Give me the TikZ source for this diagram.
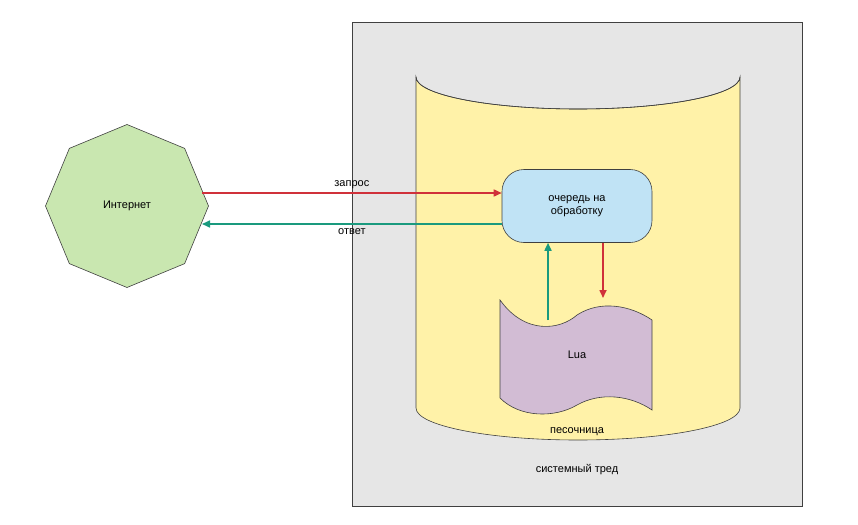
\documentclass[tikz,border=0pt]{standalone}
\usepackage{fontspec}
\setmainfont{Liberation Sans}
\usetikzlibrary{shapes.geometric,arrows.meta}
\definecolor{grayf}{HTML}{E6E6E6}
\definecolor{cyl}{HTML}{FFF2A8}
\definecolor{oct}{HTML}{C9E7B0}
\definecolor{box}{HTML}{C0E3F5}
\definecolor{doc}{HTML}{D2BCD4}
\definecolor{redA}{HTML}{D0313A}
\definecolor{grnA}{HTML}{1A9A7E}
\begin{document}
\begin{tikzpicture}[x=1pt,y=-1pt,font=\fontsize{11}{13}\selectfont,
  shp/.style={draw=black!75,line width=0.6pt},
  arr/.style={line width=1.6pt,-{Triangle[length=8pt,width=7pt]}}]
\useasboundingbox (0,0) rectangle (858,524);
\draw[shp,fill=grayf] (352,22) rectangle (802,506);
% cylinder
\draw[shp,fill=cyl] (416,77) -- (416,408) arc[start angle=180,end angle=360,x radius=162,y radius=-32] -- (740,77) arc[start angle=0,end angle=180,x radius=162,y radius=32] -- cycle;
\draw[shp] (416,77) arc[start angle=180,end angle=360,x radius=162,y radius=-32];
\node[shp,fill=oct,regular polygon,regular polygon sides=8,minimum size=163,shape border rotate=22.5,inner sep=0] (net) at (127,206) {Интернет};
\node[shp,fill=box,rounded corners=22,minimum width=150,minimum height=73,align=center] (q) at (577,206) {очередь на\\обработку};
\draw[shp,fill=doc] (500,300) .. controls (525,335) and (560,330) .. (577,315) .. controls (600,300) and (630,305) .. (652,320) -- (652,410) .. controls (630,395) and (600,392) .. (577,405) .. controls (555,418) and (520,418) .. (500,398) -- cycle;
\node (lua) at (577,355) {Lua};
\coordinate (luaT) at (548,320);
\coordinate (luaR) at (603,298);
\node (sb) at (577,432) {песочница};
\node (st) at (577,470) {системный тред};
\draw[arr,redA] (202,193) -- node[above,black]{запрос} (q.west |- 0,193);
\draw[arr,grnA] (q.west |- 0,224) -- node[below,black]{ответ} (202,224);
\draw[arr,redA] (q.south -| luaR) -- (luaR);
\draw[arr,grnA] (luaT) -- (q.south -| luaT);
\end{tikzpicture}
\end{document}
